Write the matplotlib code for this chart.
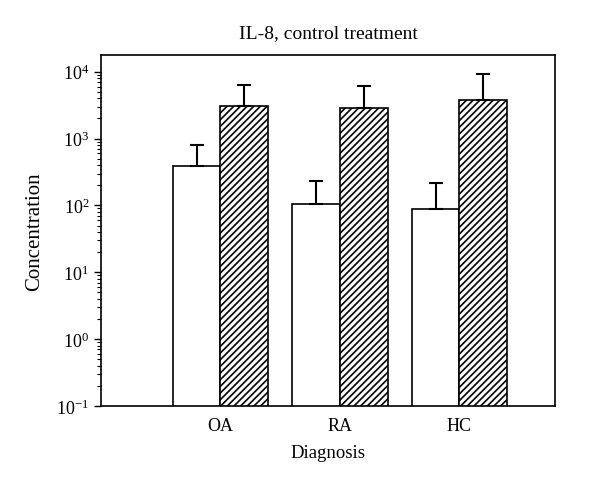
import numpy as np
import matplotlib
matplotlib.use('Agg')
import matplotlib.pyplot as plt

# 数据
groups = ['OA', 'RA', 'HC']
control = [392, 106, 87]
control_err = [415, 127, 133]
treated = [3060, 2890, 3715]
treated_err = [3320, 3280, 5615]

plt.rcParams['font.family'] = ['Liberation Serif', 'DejaVu Serif']
plt.rcParams['hatch.linewidth'] = 1.2

fig = plt.figure(figsize=(6, 4.85), dpi=100)
ax = fig.add_axes([101 / 600, 1 - 407 / 485, 454 / 600, 351 / 485])

x = np.arange(1, len(groups) + 1)
w = 0.4
ax.bar(x - w / 2, control, w, color='white', edgecolor='black', linewidth=1.2,
       yerr=[np.zeros(3), control_err], capsize=5,
       error_kw=dict(elinewidth=1.5, capthick=1.5, ecolor='black'), zorder=2)
ax.bar(x + w / 2, treated, w, color='white', edgecolor='black', linewidth=1.2,
       hatch='/////', yerr=[np.zeros(3), treated_err], capsize=5,
       error_kw=dict(elinewidth=1.5, capthick=1.5, ecolor='black'), zorder=2)

ax.set_yscale('log')
ax.set_ylim(0.1, 10 ** 4.25)
ax.set_xlim(0, 3.8)
ax.set_xticks(x)
ax.set_xticklabels(groups)
ax.tick_params(axis='x', length=0, labelsize=13, pad=8)
ax.tick_params(axis='y', which='major', length=5, width=1, labelsize=13)
ax.tick_params(axis='y', which='minor', length=3, width=0.8)
for s in ax.spines.values():
    s.set_linewidth(1.2)

ax.set_title('IL-8, control treatment', fontsize=14, pad=13)
ax.set_xlabel('Diagnosis', fontsize=13.5, labelpad=7)
ax.set_ylabel('Concentration', fontsize=15, labelpad=9)

plt.savefig('out.png', dpi=100)
